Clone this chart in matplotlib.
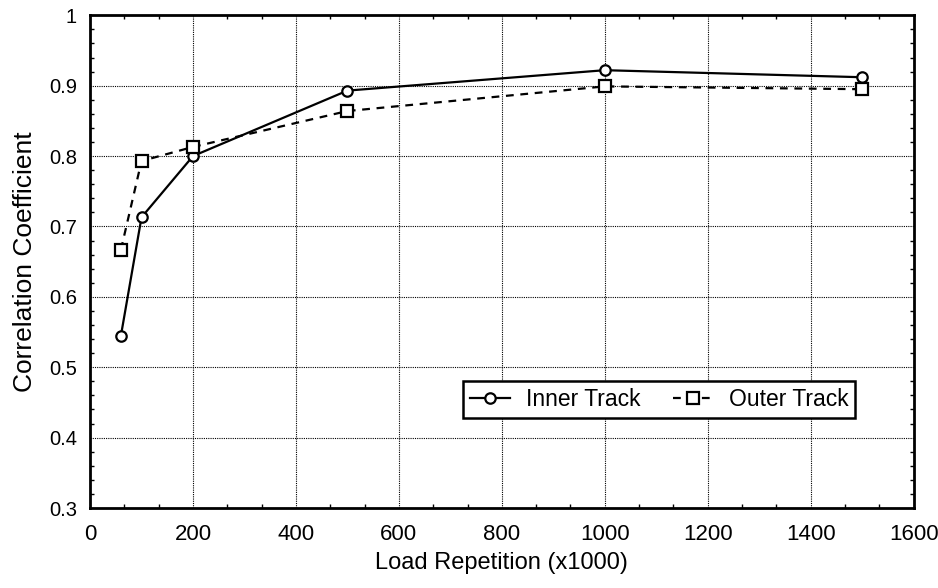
import matplotlib
matplotlib.use("Agg")
import matplotlib.pyplot as plt
from matplotlib.ticker import AutoMinorLocator

plt.rcParams['font.family'] = ['Liberation Sans', 'DejaVu Sans']

# Load repetitions (x1000) and correlation coefficients per track
load_reps = [60, 100, 200, 500, 1000, 1500]
inner_track = [0.545, 0.713, 0.800, 0.893, 0.922, 0.912]
outer_track = [0.667, 0.793, 0.813, 0.864, 0.899, 0.895]

x_ticks = [0, 200, 400, 600, 800, 1000, 1200, 1400, 1600]
y_ticks = [0.3, 0.4, 0.5, 0.6, 0.7, 0.8, 0.9, 1.0]
y_tick_labels = ['0.3', '0.4', '0.5', '0.6', '0.7', '0.8', '0.9', '1']

fig = plt.figure(figsize=(9.38, 5.88), dpi=100)
ax = fig.add_axes([0.096, 0.136, 0.878, 0.838])

ax.plot(load_reps, inner_track, color='black', linestyle='-', linewidth=1.6,
        marker='o', markersize=7.5, markerfacecolor='white',
        markeredgecolor='black', markeredgewidth=1.6, label='Inner Track')
ax.plot(load_reps, outer_track, color='black', linestyle=(0, (3.5, 3)), linewidth=1.6,
        marker='s', markersize=8, markerfacecolor='white',
        markeredgecolor='black', markeredgewidth=1.6, label='Outer Track')

ax.set_xlim(0, 1600)
ax.set_ylim(0.3, 1.0)
ax.set_xticks(x_ticks)
ax.set_yticks(y_ticks)
ax.set_yticklabels(y_tick_labels)
ax.xaxis.set_minor_locator(AutoMinorLocator(3))
ax.yaxis.set_minor_locator(AutoMinorLocator(5))

ax.grid(True, which='major', color='black', linestyle=(0, (1, 1)), linewidth=0.8)
ax.set_axisbelow(True)

ax.tick_params(which='both', direction='in', top=True, right=True)
ax.tick_params(which='major', length=0)
ax.tick_params(which='minor', length=3, width=1)
ax.tick_params(axis='x', labelsize=16, pad=11.5)
ax.tick_params(axis='y', labelsize=14.5, pad=9.5)
for s in ax.spines.values():
    s.set_linewidth(2)
    s.set_color('black')

ax.set_xlabel('Load Repetition (x1000)', fontsize=17, va='center')
ax.set_ylabel('Correlation Coefficient', fontsize=19, va='center')
ax.xaxis.set_label_coords(0.5, -0.112)
ax.yaxis.set_label_coords(-0.079, 0.5)

leg = ax.legend(loc='lower left', bbox_to_anchor=(0.453, 0.183), ncol=2,
                fontsize=16.5, frameon=True, fancybox=False, framealpha=1,
                edgecolor='black', handlelength=1.75, handletextpad=0.7,
                columnspacing=1.4, borderpad=0.3, borderaxespad=0,
                numpoints=1)
leg.get_frame().set_linewidth(1.8)

fig.savefig('out.png', dpi=100)
